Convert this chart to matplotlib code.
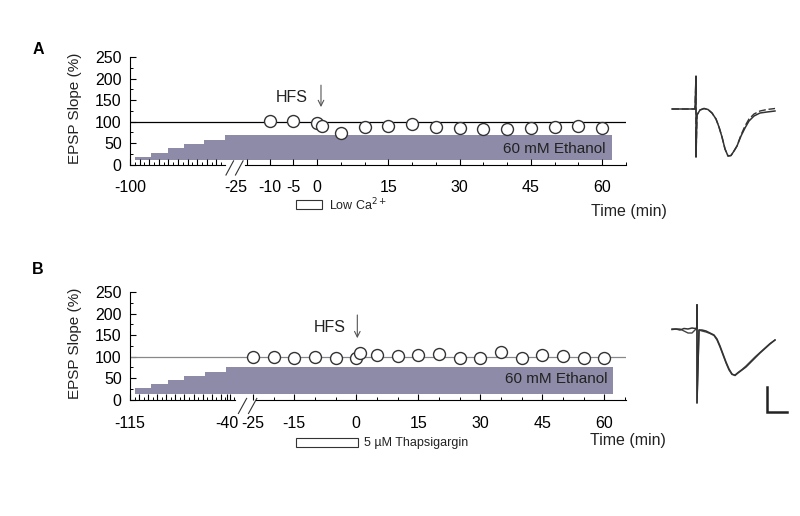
import numpy as np
import matplotlib
matplotlib.use('Agg')
import matplotlib.pyplot as plt

plt.rcParams['font.family'] = ['Liberation Sans', 'DejaVu Sans']

# ---------- panel A : Low Ca2+ ----------
a_time = [-10, -5, 0, 1, 5, 10, 15, 20, 25, 30, 35, 40, 45, 50, 55, 60]
a_slope = [101, 101, 98, 89, 74, 88, 90, 95, 87, 85, 82, 84, 86, 88, 90, 86]
a_ramp_start = [-96, -85, -72.5, -60.5, -46, -30.5]   # minutes, before the break
a_ramp_top = [18, 28, 38, 48, 58, 68]
a_ramp_bottom = 12
a_ramp_end = 62
a_treat = [-4.5, 1]
a_left_labels = [-100]
a_right_labels = [-10, -5, 0, 15, 30, 45, 60]

# ---------- panel B : Thapsigargin ----------
b_time = [-25, -20, -15, -10, -5, 0, 1, 5, 10, 15, 20, 25, 30, 35, 40, 45, 50, 55, 60]
b_slope = [100, 100, 98, 100, 96, 96, 108, 104, 102, 104, 106, 98, 96, 110, 98, 105, 102, 96, 98]
b_ramp_start = [-111, -99, -86, -73, -57.5, -41]
b_ramp_top = [27, 36, 46, 55, 64, 75]
b_ramp_bottom = 13
b_ramp_end = 62
b_treat = [-14.5, 0.3]
b_left_labels = [-115, -40]
b_right_labels = [-25, -15, 0, 15, 30, 45, 60]

# example EPSP traces (pixel units)
a_trace_x = [672, 695, 696, 696, 697, 700, 704, 708, 712, 716, 719, 722, 725, 728, 731,
             734, 737, 741, 745, 749, 754, 760, 767, 775]
a_trace_y1 = [109, 109, 76, 157, 115, 110, 108.5, 109.5, 113, 119, 127, 137, 149, 156, 155.5,
              151, 146, 136, 128, 121, 116, 113, 112, 111]
a_trace_y2 = [109, 109, 76, 157, 115, 110, 108.5, 109.5, 113, 119, 127, 137, 149, 156, 155.5,
              151, 146, 135, 126, 119, 114, 111, 109.5, 108.5]
b_trace_x = [672, 676, 680, 684, 688, 692, 695, 697, 697, 697, 699, 702, 706, 710, 714, 717,
             720, 723, 726, 729, 732, 735, 738, 742, 746, 750, 755, 760, 765, 770, 775]
b_trace_y1 = [329.5, 329, 330, 328.5, 329, 328, 328.5, 328, 305, 403, 330, 330, 331, 333, 335,
              339, 346, 354, 362, 369, 374, 375.5, 373, 370, 367, 363, 358, 353, 348.5, 344, 340]
b_trace_y2 = [329, 329, 329, 331, 333, 333, 330, 328, 305, 403, 330, 331, 332, 333.5, 335.5,
              340, 347, 355, 363, 370, 374.5, 375, 372.5, 369.5, 366, 362, 357, 352.5, 348, 343.5, 340]
b_scale_x = [766.7, 766.7, 786.7]
b_scale_y = [386.7, 411.7, 411.7]

BAR_COLOR = '#8d8ba8'
TXT = '#222222'


def left_map(t, t0, t1, u0, u1):
    # compressed segment before the axis break
    return u0 + (np.asarray(t, dtype=float) - t0) * (u1 - u0) / (t1 - t0)


def draw_panel(ax, time, slope, ramp_start, ramp_top, ramp_bottom, ramp_end,
               lmap, left_end, seg_line, seg_tick, seg_label, left_labels, right_labels,
               left_tick_step, breaks, ref_color, xlim, xpad, hfs, treat, treat_text,
               time_lbl_y, eth_y):
    t0, t1, u0, u1 = lmap
    L = lambda t: left_map(t, t0, t1, u0, u1)

    # ethanol ramp
    starts = L(ramp_start)
    ends = list(starts[1:]) + [ramp_end]
    widths = np.array(ends) - starts
    ax.bar(starts, np.array(ramp_top) - ramp_bottom, width=widths, bottom=ramp_bottom,
           align='edge', color=BAR_COLOR, linewidth=0, zorder=1)
    ax.text(ramp_end - 1.3, eth_y, '60 mM Ethanol', ha='right', va='center',
            fontsize=11, color=TXT, zorder=3)

    ax.axhline(100, color=ref_color, lw=0.9, zorder=2)
    ax.plot(time, slope, 'o', ms=8.6, mfc='white', mec='#333333', mew=1.0, zorder=4)

    ax.set_xlim(*xlim)
    ax.set_ylim(0, 250)

    # axes look
    for s in ['top', 'right']:
        ax.spines[s].set_visible(False)
    ax.spines['bottom'].set_bounds(seg_line, xlim[1])
    ax.plot([u0, L(left_end)], [0, 0], color='k', lw=0.8, clip_on=False, zorder=5)
    for b in breaks[0]:
        ax.plot([b - breaks[1] / 2, b + breaks[1] / 2], [breaks[2], breaks[3]],
                color='#333333', lw=0.8, clip_on=False)

    left_ticks = L(np.arange(t0, left_end, left_tick_step))
    right_ticks = [seg_tick] + [t for t in range(-25, 66, 5) if t > seg_tick]
    major_pos = list(L(left_labels)) + list(right_labels)
    major_lab = [str(v) for v in left_labels] + [str(v) for v in right_labels]
    if seg_tick not in right_labels:
        major_pos.append(seg_tick)
        major_lab.append(seg_label)
    # longer ticks every other on the compressed segment
    for p in left_ticks[2::2]:
        major_pos.append(p)
        major_lab.append('')
    order = np.argsort(major_pos)
    major_pos = [major_pos[i] for i in order]
    major_lab = [major_lab[i] for i in order]
    ax.set_xticks(major_pos)
    ax.set_xticklabels(major_lab)
    minor = [p for p in list(left_ticks) + right_ticks
             if min(abs(p - m) for m in major_pos) > 0.3]
    ax.set_xticks(minor, minor=True)
    ax.set_yticks(range(0, 251, 50))
    ax.set_yticks(range(25, 250, 50), minor=True)
    ax.tick_params(axis='both', which='major', direction='in', length=4, width=0.8,
                   labelsize=11.5, colors='k')
    ax.tick_params(axis='both', which='minor', direction='in', length=2.5, width=0.7)
    ax.tick_params(axis='x', which='major', pad=xpad)
    ax.tick_params(axis='y', which='major', pad=6)
    if seg_tick not in right_labels:
        for lab in ax.get_xticklabels():
            if lab.get_text() == seg_label:
                lab.set_ha('right')
    for s in ['left', 'bottom']:
        ax.spines[s].set_linewidth(0.8)

    ax.text(-0.111, 0.525, 'EPSP Slope (%)', transform=ax.transAxes, rotation=90,
            ha='center', va='center', fontsize=11, color=TXT)

    # HFS marker
    ax.text(hfs[0], hfs[1], 'HFS', ha='center', va='center', fontsize=11.5, color=TXT)
    ax.annotate('', xy=(hfs[2], hfs[4]), xytext=(hfs[2], hfs[3]),
                arrowprops=dict(arrowstyle='->', lw=0.8, color='#555555',
                                shrinkA=0, shrinkB=0))

    # treatment bar below the axis
    ax.add_patch(plt.Rectangle((treat[0], treat_text[1] - 10), treat[1] - treat[0], 20,
                               fill=False, ec='#333333', lw=0.8, clip_on=False))
    ax.text(treat[1] + 1.5, treat_text[1] - 1, treat_text[0], ha='left', va='center',
            fontsize=9, color=TXT)
    ax.text(65.7, time_lbl_y, 'Time (min)', ha='center', va='center', fontsize=11.5,
            color=TXT)


fig = plt.figure(figsize=(8, 5.16), dpi=100)

axA = fig.add_axes([130 / 800, 1 - 164.7 / 516, 496 / 800, 107.5 / 516])
draw_panel(axA, a_time, a_slope, a_ramp_start, a_ramp_top, a_ramp_bottom, a_ramp_end,
           lmap=(-100, -30, -39.4, -19.2), left_end=-30.5, seg_line=-15.2,
           seg_tick=-14.7, seg_label='-25', left_labels=a_left_labels,
           right_labels=a_right_labels, left_tick_step=3.5,
           breaks=([-18.4, -16.4], 1.6, -24, 9), ref_color='k',
           xlim=(-39.4, 65.0), xpad=11,
           hfs=(-5.3, 157, 0.8, 185, 134), treat=a_treat,
           treat_text=('Low Ca$^{2+}$', -92), time_lbl_y=-108, eth_y=36)

axB = fig.add_axes([130 / 800, 1 - 399.7 / 516, 496 / 800, 107.5 / 516])
draw_panel(axB, b_time, b_slope, b_ramp_start, b_ramp_top, b_ramp_bottom, b_ramp_end,
           lmap=(-115, -40, -54.7, -31.2), left_end=-34, seg_line=-24.2,
           seg_tick=-25, seg_label='-25', left_labels=b_left_labels,
           right_labels=b_right_labels, left_tick_step=3.5,
           breaks=([-27.5, -25.05], 2.0, -32, 3), ref_color='#888888',
           xlim=(-54.7, 65.2), xpad=12,
           hfs=(-6.5, 167, 0.25, 197, 143), treat=b_treat,
           treat_text=('5 µM Thapsigargin', -99), time_lbl_y=-96, eth_y=48)

fig.text(38 / 800, 1 - 50 / 516, 'A', fontsize=11.5, fontweight='bold', ha='center', va='center')
fig.text(38 / 800, 1 - 270 / 516, 'B', fontsize=11.5, fontweight='bold', ha='center', va='center')

# example traces
axT = fig.add_axes([0, 0, 1, 1])
axT.set_xlim(0, 800)
axT.set_ylim(516, 0)
axT.axis('off')
axT.plot(a_trace_x, a_trace_y2, color='#333333', lw=1.0, ls=(0, (5, 2)))
axT.plot(a_trace_x, a_trace_y1, color='#333333', lw=1.1)
axT.plot(b_trace_x, b_trace_y2, color='#444444', lw=1.0)
axT.plot(b_trace_x, b_trace_y1, color='#333333', lw=1.1)
axT.plot(b_scale_x, b_scale_y, color='#222222', lw=1.8, solid_joinstyle='miter')

fig.savefig('out.png', dpi=100)
